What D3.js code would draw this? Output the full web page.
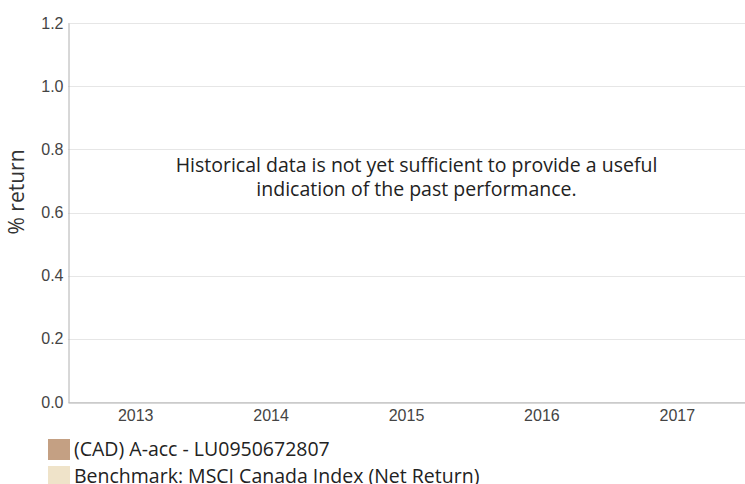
<!DOCTYPE html>
<html>
<head>
<meta charset="utf-8">
<script src="https://cdn.jsdelivr.net/npm/d3@7"></script>
<style>
  body { margin: 0; background: #fff; }
  svg { display: block; }
</style>
</head>
<body>
<div id="chart"></div>
<script>
// chart data
const YEARS = ["2013", "2014", "2015", "2016", "2017"];
const Y_TICKS = [0, 0.2, 0.4, 0.6, 0.8, 1.0, 1.2];
const SERIES = ["(CAD) A-acc - LU0950672807", "Benchmark: MSCI Canada Index (Net Return)"];
const SERIES_COLORS = ["#c4a083", "#efe3c9"];
const MESSAGE = ["Historical data is not yet sufficient to provide a useful",
                 "indication of the past performance."];

const FRAME_WIDTH = 745;
const FRAME_HEIGHT = 484;
const MARGINS = {left: 68, right: 0, top: 23, bottom: 82};

const FRAME = d3.select("#chart")
                .append("svg")
                    .attr("width", FRAME_WIDTH)
                    .attr("height", FRAME_HEIGHT);

const X_SCALE = d3.scaleBand()
                    .domain(YEARS)
                    .range([MARGINS.left, FRAME_WIDTH - MARGINS.right]);

const Y_SCALE = d3.scaleLinear()
                    .domain([0, 1.2])
                    .range([FRAME_HEIGHT - MARGINS.bottom, MARGINS.top]);

// gridlines
FRAME.selectAll(".grid")
    .data(Y_TICKS)
    .enter()
    .append("line")
        .attr("x1", MARGINS.left)
        .attr("x2", FRAME_WIDTH - MARGINS.right)
        .attr("y1", (d) => Math.round(Y_SCALE(d)) + 0.5)
        .attr("y2", (d) => Math.round(Y_SCALE(d)) + 0.5)
        .attr("stroke", "#e6e6e6");

// y axis
const yAxis = FRAME.append("g")
    .attr("transform", "translate(" + (MARGINS.left + 0.5) + ",0)")
    .call(d3.axisLeft(Y_SCALE).tickValues(Y_TICKS).tickFormat(d3.format(".1f")).tickSize(0).tickPadding(5));
yAxis.select(".domain").attr("stroke", "#b0b0b0");
yAxis.selectAll("text")
    .attr("font-family", "'Liberation Sans', Arial, sans-serif")
    .attr("font-size", "16px")
    .attr("fill", "#444");

// x axis
const xAxis = FRAME.append("g")
    .attr("transform", "translate(0," + (Math.round(Y_SCALE(0)) + 0.5) + ")")
    .call(d3.axisBottom(X_SCALE).tickSize(0).tickPadding(7));
xAxis.select(".domain").attr("stroke", "#b0b0b0");
xAxis.selectAll("text")
    .attr("font-family", "'Liberation Sans', Arial, sans-serif")
    .attr("font-size", "16px")
    .attr("fill", "#444");

// y label
FRAME.append("text")
    .attr("transform", "translate(24,192) rotate(-90)")
    .attr("text-anchor", "middle")
    .attr("font-family", "'Open Sans', 'Noto Sans', sans-serif")
    .attr("font-size", "21px")
    .attr("fill", "#333")
    .text("% return");

// message
FRAME.selectAll(".msg")
    .data(MESSAGE)
    .enter()
    .append("text")
        .attr("x", 416.5)
        .attr("y", (d, i) => 172 + i * 24)
        .attr("text-anchor", "middle")
        .attr("font-family", "'Open Sans', 'Noto Sans', sans-serif")
        .attr("font-size", "19.5px")
        .attr("fill", "#222")
        .text((d) => d);

// legend
const legend = FRAME.selectAll(".legend")
    .data(SERIES)
    .enter()
    .append("g")
        .attr("transform", (d, i) => "translate(48," + (439 + i * 27) + ")");

legend.append("rect")
    .attr("width", 22)
    .attr("height", 21)
    .attr("fill", (d, i) => SERIES_COLORS[i]);

legend.append("text")
    .attr("x", 26)
    .attr("y", 17)
    .attr("font-family", "'Open Sans', 'Noto Sans', sans-serif")
    .attr("font-size", "19.5px")
    .attr("fill", "#222")
    .text((d) => d);
</script>
</body>
</html>
